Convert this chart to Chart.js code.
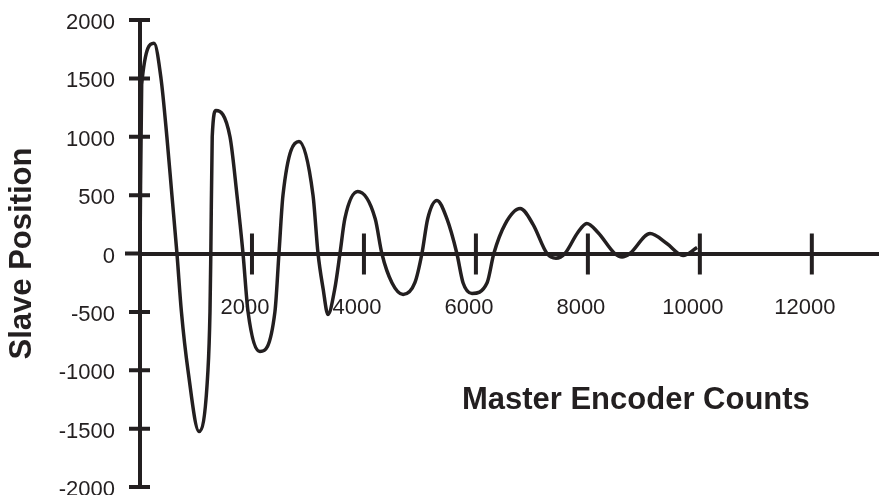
<!DOCTYPE html>
<html>
<head>
<meta charset="utf-8">
<script src="https://cdn.jsdelivr.net/npm/chart.js@4.4.0/dist/chart.umd.min.js"></script>
<style>
    html, body { margin: 0; padding: 0; background: #ffffff; }
</style>
</head>
<body>
<canvas id="graficoSlave" width="879" height="495"></canvas>
<script>
// Datos (picos, valles, flancos y cruces por cero)
const masterCounts = [0, 30, 250, 375, 480, 570, 660, 740, 857, 1054, 1214, 1250, 1265, 1290, 1357, 1607, 1732, 1840, 1930, 2143, 2410, 2482, 2554, 2840, 3090, 3180, 3270, 3357, 3480, 3572, 3660, 3890, 4200, 4320, 4500, 4700, 4910, 5036, 5140, 5304, 5480, 5660, 5770, 5930, 6200, 6320, 6520, 6790, 7020, 7270, 7430, 7590, 7820, 7980, 8180, 8480, 8610, 8750, 9110, 9410, 9700, 9950];
const slavePosition = [0, 1450, 1800, 1500, 1000, 500, 0, -500, -1000, -1524, -1000, -500, 0, 1000, 1224, 1000, 500, 0, -500, -839, -500, 0, 500, 959, 500, 0, -300, -522, -300, 0, 300, 530, 300, 0, -250, -351, -250, 0, 300, 454, 300, 0, -250, -342, -250, 0, 250, 385, 250, 0, -40, 0, 180, 257, 180, 0, -30, 0, 171, 86, -17, 51];
const xTickValues = [0, 2000, 4000, 6000, 8000, 10000, 12000];
const yTickValues = [-2000, -1500, -1000, -500, 0, 500, 1000, 1500, 2000];

const yTitle = "Slave Position";
const xTitle = "Master Encoder Counts";
const ink = "#231f20";
const fontFamily = '"Liberation Sans", Arial, Helvetica, sans-serif';

// Marcas que cruzan los ejes y título del eje X dentro del área
const crossTicks = {
    id: "crossTicks",
    afterDatasetsDraw(chart) {
        const { ctx, chartArea, scales: { x, y } } = chart;
        const x0 = x.getPixelForValue(0);
        const y0 = y.getPixelForValue(0);
        ctx.save();
        ctx.strokeStyle = ink;
        ctx.lineWidth = 4;
        ctx.beginPath();
        ctx.moveTo(x0 - 15, y0);
        ctx.lineTo(x0, y0);
        x.ticks.forEach((t) => {
            if (t.value === 0) return;
            const px = x.getPixelForValue(t.value);
            ctx.moveTo(px, y0 - 20);
            ctx.lineTo(px, y0 + 21);
        });
        y.ticks.forEach((t) => {
            if (t.value === 0) return;
            const py = y.getPixelForValue(t.value);
            ctx.moveTo(x0 - 11, py);
            ctx.lineTo(x0 + 10, py);
        });
        ctx.stroke();

        ctx.fillStyle = ink;
        ctx.font = "bold 31px " + fontFamily;
        ctx.textAlign = "center";
        ctx.textBaseline = "middle";
        ctx.fillText(xTitle, chartArea.left + chartArea.width * 0.671, chartArea.top + chartArea.height * 0.815);
        ctx.restore();
    }
};

new Chart(document.getElementById("graficoSlave"), {
    type: "line",
    data: {
        datasets: [{
            label: yTitle,
            data: masterCounts.map((m, i) => ({ x: m, y: slavePosition[i] })),
            borderColor: ink,
            borderWidth: 3.5,
            pointRadius: 0,
            fill: false,
            cubicInterpolationMode: "monotone",
        }],
    },
    options: {
        responsive: false,
        animation: false,
        layout: { padding: { top: 20, bottom: 8, left: 0, right: 0 } },
        plugins: {
            legend: { display: false },
            tooltip: { enabled: false },
        },
        scales: {
            x: {
                type: "linear",
                position: { y: 0 },
                min: 0,
                max: 13200,
                afterBuildTicks: (scale) => {
                    scale.ticks = xTickValues.map((v) => ({ value: v }));
                },
                afterFit: (scale) => {
                    scale.paddingLeft = 0;
                    scale.paddingRight = 0;
                },
                grid: {
                    display: true,
                    drawOnChartArea: false,
                    drawTicks: true,
                    tickLength: 20,
                    color: "rgba(0,0,0,0)",
                },
                border: { display: true, color: ink, width: 4 },
                ticks: {
                    autoSkip: false,
                    maxRotation: 0,
                    padding: 21,
                    labelOffset: -7,
                    color: ink,
                    font: { family: fontFamily, size: 22 },
                    callback: (v) => (v === 0 ? "" : String(v)),
                },
            },
            y: {
                type: "linear",
                position: "left",
                min: -2000,
                max: 2000,
                afterBuildTicks: (scale) => {
                    scale.ticks = yTickValues.map((v) => ({ value: v }));
                },
                afterFit: (scale) => {
                    scale.width = 140;
                    scale.paddingTop = 0;
                    scale.paddingBottom = 0;
                },
                grid: {
                    display: true,
                    drawOnChartArea: false,
                    drawTicks: true,
                    tickLength: 10,
                    color: "rgba(0,0,0,0)",
                },
                border: { display: true, color: ink, width: 4 },
                ticks: {
                    padding: 15,
                    labelOffset: 3,
                    color: ink,
                    font: { family: fontFamily, size: 22 },
                    callback: (v) => String(v),
                },
                title: {
                    display: true,
                    text: yTitle,
                    color: ink,
                    font: { family: fontFamily, size: 31, weight: "bold" },
                    padding: { top: 4, bottom: 0 },
                },
            },
        },
    },
    plugins: [crossTicks],
});
</script>
</body>
</html>
